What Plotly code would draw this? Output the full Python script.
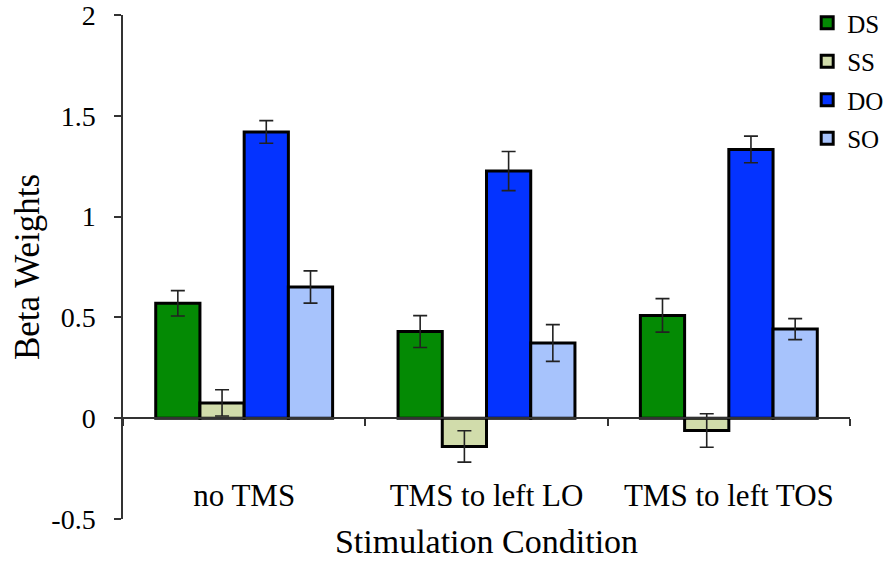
import plotly.graph_objects as go

# Stimulation conditions (x categories)
conditions = ["no TMS", "TMS to left LO", "TMS to left TOS"]

# Mean beta weights per condition for each regressor
ds = [0.57, 0.43, 0.51]
ss = [0.076, -0.14, -0.061]
do = [1.42, 1.226, 1.333]
so = [0.651, 0.373, 0.442]

# Standard errors
ds_err = [0.063, 0.079, 0.083]
ss_err = [0.065, 0.078, 0.083]
do_err = [0.056, 0.097, 0.066]
so_err = [0.08, 0.091, 0.052]

# Y tick values and labels (hyphen minus, as printed)
y_ticks = [-0.5, 0, 0.5, 1, 1.5, 2]
y_tick_text = ["-0.5", "0", "0.5", "1", "1.5", "2"]

series = [
    ("DS", ds, ds_err, "#048A04"),
    ("SS", ss, ss_err, "#D1DCAB"),
    ("DO", do, do_err, "#0433FF"),
    ("SO", so, so_err, "#A7C3FC"),
]

FONT = "Liberation Serif, Times New Roman, serif"
AXIS_COLOR = "#333333"

fig = go.Figure()
for i, (name, vals, errs, color) in enumerate(series):
    fig.add_trace(go.Bar(
        name=name,
        x=conditions,
        y=vals,
        marker=dict(color=color, line=dict(color="black", width=3)),
        error_y=dict(type="data", array=errs, visible=True,
                     color="#222222", thickness=1.6, width=7),
        legendgroup=name,
    ))

fig.update_layout(
    width=888,
    height=562,
    margin=dict(l=123, r=38, t=15, b=43, autoexpand=False),
    paper_bgcolor="white",
    plot_bgcolor="white",
    barmode="group",
    bargap=0.27,
    bargroupgap=0,
    font=dict(family=FONT, color="black"),
    showlegend=True,
    legend=dict(
        xref="container", yref="container",
        x=0.909, y=1.012, xanchor="left", yanchor="top",
        font=dict(family=FONT, size=25, color="black"),
        bgcolor="rgba(0,0,0,0)",
        tracegroupgap=3,
        itemclick=False,
    ),
    xaxis=dict(
        type="category",
        anchor="free",
        position=0.2,
        showline=True,
        linecolor=AXIS_COLOR,
        linewidth=1.5,
        ticks="outside",
        tickson="boundaries",
        ticklen=7,
        tickwidth=1.5,
        tickcolor=AXIS_COLOR,
        showgrid=False,
        zeroline=False,
        tickfont=dict(family=FONT, size=31, color="black"),
        ticklabelstandoff=50,
        title=dict(text="Stimulation Condition",
                   font=dict(family=FONT, size=34, color="black"),
                   standoff=16),
    ),
    yaxis=dict(
        range=[-0.5, 2],
        tickvals=y_ticks,
        ticktext=y_tick_text,
        showline=True,
        linecolor=AXIS_COLOR,
        linewidth=1.5,
        ticks="outside",
        ticklen=7,
        tickwidth=1.5,
        tickcolor=AXIS_COLOR,
        showgrid=False,
        zeroline=False,
        tickfont=dict(family=FONT, size=28, color="black"),
        ticklabelstandoff=13,
        ticklabeloverflow="allow",
        title=dict(text="Beta Weights",
                   font=dict(family=FONT, size=35, color="black"),
                   standoff=1),
    ),
)

fig.write_html("out.html")
